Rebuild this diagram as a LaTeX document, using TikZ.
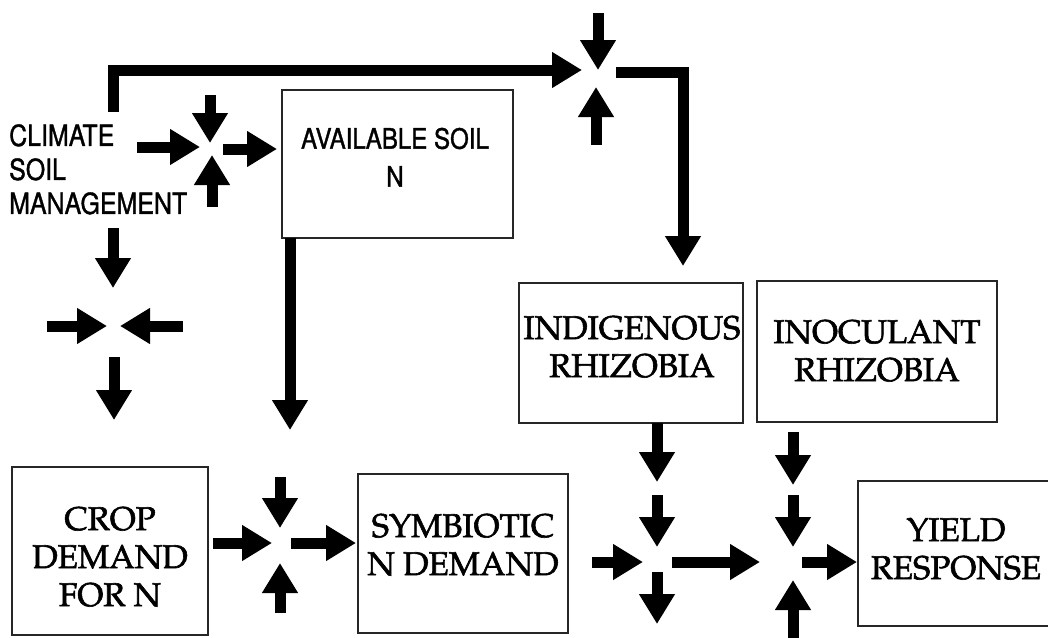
\documentclass[tikz,border=0pt]{standalone}
\usepackage[T1]{fontenc}
\usepackage{graphicx}
\usetikzlibrary{arrows.meta}
% Faces: a narrow Helvetica for the driver labels, Palatino for the boxes
\newcommand\drvface{\fontfamily{phv}\fontsize{29}{34}\selectfont}
\newcommand\boxface{\fontfamily{ppl}\fontsize{33}{38}\selectfont}
\newcommand\narrow[1]{\scalebox{0.86}[1]{#1}}
% Slightly heavier glyphs: fill and stroke the outlines
\newcommand\heavy[2]{\special{pdf:literal direct 2 Tr #1 w}#2\special{pdf:literal direct 0 Tr}}
\begin{document}
\begin{tikzpicture}[x=1pt,y=-1pt,
  box/.style={draw=black!85, line width=1.4pt, inner sep=0pt},
  boxtext/.style={inner sep=0pt, align=center, font=\boxface},
  flow/.style={draw=black, line width=11pt, line join=miter,
    -{Triangle[width=34pt,length=30pt]}}]
\useasboundingbox (0,0) rectangle (1048,637);
\clip (0,0) rectangle (1048,637);

% ---- boxes ----
\node[box, minimum width=231pt, minimum height=148pt] (avail) at (397.5,164) {};
\node[box, minimum width=196pt, minimum height=168pt] (crop)  at (110,551) {};
\node[box, minimum width=210pt, minimum height=159pt] (symb)  at (463,553.5) {};
\node[box, minimum width=224pt, minimum height=140pt] (indig) at (631,353) {};
\node[box, minimum width=240pt, minimum height=141pt] (inoc)  at (877,351.5) {};
\node[box, minimum width=200pt, minimum height=145pt] (yield) at (958,553.5) {};

% ---- texts ----
\node[anchor=west, inner sep=0pt] (drivers) at (9,173)
  {\heavy{0.4}{\narrow{\drvface\begin{tabular}{@{}l@{}}CLIMATE\\SOIL\\MANAGEMENT\end{tabular}}}};
\node[inner sep=0pt] (availT) at (395,160)
  {\heavy{0.4}{\narrow{\fontfamily{phv}\fontsize{28}{38}\selectfont\begin{tabular}{@{}c@{}}AVAILABLE SOIL\\N\end{tabular}}}};
\node[boxtext] (cropT)  at (110,557) {\heavy{0.6}{CROP\\DEMAND\\FOR N}};
\node[boxtext] (symbT)  at (463,545) {\heavy{0.6}{SYMBIOTIC\\N DEMAND}};
\node[boxtext] (indigT) at (632,347) {\heavy{0.6}{INDIGENOUS\\RHIZOBIA}};
\node[boxtext] (inocT)  at (877,351) {\heavy{0.6}{INOCULANT\\RHIZOBIA}};
\node[boxtext] (yieldT) at (956,549) {\heavy{0.6}{YIELD\\RESPONSE}};

% ---- junction points ----
\coordinate (j1) at (598,78);
\coordinate (j2) at (210,149);
\coordinate (j3) at (113,326);
\coordinate (j4) at (280,545);
\coordinate (j5) at (657,563);
\coordinate (j6) at (793,562);

% ---- top loop: drivers to the rhizobia ----
\coordinate (loopA) at (113,112);
\coordinate (loopB) at (113,70);
\draw[flow] (loopA) -- (loopB) -- (582,70);
\draw[flow] (598,13) -- (598,70);
\draw[flow] (596,145) -- (596,87);
\coordinate (exit1) at (616,72);
\coordinate (turn1) at (683,72);
\coordinate (tip1) at (683,266);
\draw[flow] (exit1) -- (turn1) -- (tip1);

% ---- drivers to available soil N ----
\draw[flow] (137,147) -- (200,147);
\draw[flow] (210,95) -- (210,143);
\draw[flow] (212,207) -- (212,155);
\coordinate (inAvail) at (277,149);
\draw[flow] (223,149) -- (inAvail);

% ---- drivers down to crop demand ----
\draw[flow] (113,228) -- (113,288);
\draw[flow] (47,326) -- (107,326);
\draw[flow] (183,326) -- (120,326);
\draw[flow] (114,357) -- (114,420);

% ---- available soil N down ----
\coordinate (outAvail) at (290,238);
\draw[flow] (outAvail) -- (290,430);

% ---- crop demand to symbiotic N demand ----
\draw[flow] (213,543) -- (272,543);
\draw[flow] (280,477) -- (280,528);
\draw[flow] (280,613) -- (280,563);
\coordinate (inSymb) at (356,543);
\draw[flow] (291,543) -- (inSymb);

% ---- indigenous rhizobia ----
\coordinate (outIndig) at (657,423);
\draw[flow] (outIndig) -- (657,482);
\draw[flow] (657,495) -- (657,547);
\draw[flow] (592,562) -- (643,562);
\draw[flow] (657,572) -- (657,624);
\draw[flow] (672,562) -- (760,562);

% ---- inoculant rhizobia to yield ----
\draw[flow] (793,432) -- (793,485);
\draw[flow] (793,495) -- (793,547);
\draw[flow] (793,645) -- (793,580);
\coordinate (inYield) at (857,562);
\draw[flow] (802,562) -- (inYield);
\end{tikzpicture}
\end{document}
